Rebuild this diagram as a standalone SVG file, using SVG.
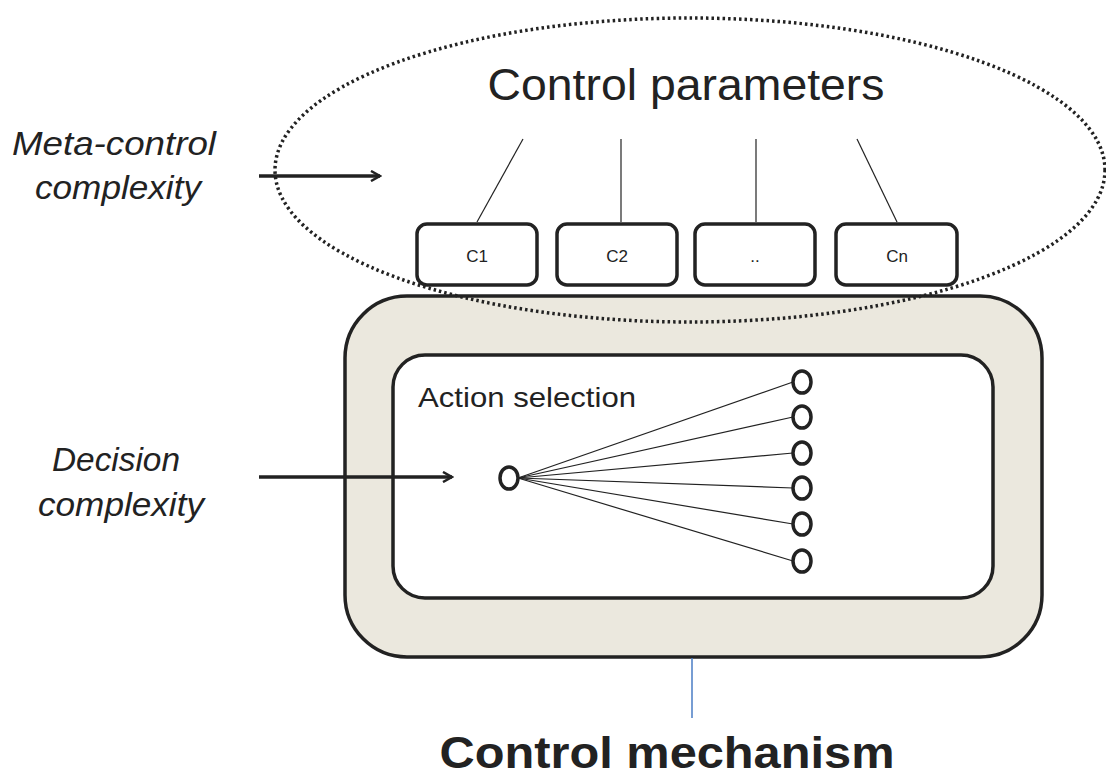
<svg xmlns="http://www.w3.org/2000/svg" width="1106" height="776" viewBox="0 0 1106 776">
<defs>
<style>
.t{font-family:"Liberation Sans","DejaVu Sans",sans-serif;fill:#222}
.lbl{font-style:italic;font-size:33px}
.box{fill:#fff;stroke:#222;stroke-width:3.5}
.thin{stroke:#222;stroke-width:1.2;fill:none}
.node{fill:#fff;stroke:#222;stroke-width:3.5}
.arr{stroke:#222;stroke-width:3.5;fill:none}
</style>
<marker id="ah" viewBox="0 0 12 12" refX="10" refY="6" markerWidth="12" markerHeight="12" markerUnits="userSpaceOnUse" orient="auto">
<path d="M1,1 L10,6 L1,11" fill="none" stroke="#222" stroke-width="2.5"/>
</marker>
</defs>
<rect width="1106" height="776" fill="#fff"/>

<g id="control-mechanism">
<rect x="345" y="296" width="697" height="361" rx="62" fill="#ebe8de" stroke="#222" stroke-width="3.5"/>
<line x1="692" y1="658" x2="692" y2="718" stroke="#4a7cc4" stroke-width="1.5"/>
<text class="t" x="667" y="768" font-size="44" font-weight="bold" text-anchor="middle" textLength="455" lengthAdjust="spacingAndGlyphs">Control mechanism</text>
</g>

<g id="action-selection">
<rect x="393" y="355" width="600" height="243" rx="32" fill="#fff" stroke="#222" stroke-width="3.5"/>
<text class="t" x="418" y="407" font-size="28" textLength="218" lengthAdjust="spacingAndGlyphs">Action selection</text>
</g>

<g id="control-parameters">
<ellipse cx="690" cy="170" rx="415" ry="152" fill="none" stroke="#222" stroke-width="3.5" stroke-dasharray="2.5,3"/>
<text class="t" x="686" y="100" font-size="44" text-anchor="middle" textLength="397" lengthAdjust="spacingAndGlyphs">Control parameters</text>
</g>

<g id="c1"><rect class="box" x="417" y="224" width="120" height="61" rx="10"/><text class="t" x="477" y="262" font-size="17" text-anchor="middle">C1</text></g>
<g id="c2"><rect class="box" x="557" y="224" width="120" height="61" rx="10"/><text class="t" x="617" y="262" font-size="17" text-anchor="middle">C2</text></g>
<g id="c3"><rect class="box" x="695" y="224" width="120" height="61" rx="10"/><text class="t" x="755" y="262" font-size="17" text-anchor="middle">..</text></g>
<g id="cn"><rect class="box" x="836" y="224" width="121" height="61" rx="10"/><text class="t" x="897" y="262" font-size="17" text-anchor="middle">Cn</text></g>

<g id="labels">
<text class="t lbl" x="114" y="155" text-anchor="middle" textLength="204" lengthAdjust="spacingAndGlyphs">Meta-control</text>
<text class="t lbl" x="118" y="199" text-anchor="middle" textLength="166" lengthAdjust="spacingAndGlyphs">complexity</text>
<text class="t lbl" x="116" y="471" text-anchor="middle" textLength="128" lengthAdjust="spacingAndGlyphs">Decision</text>
<text class="t lbl" x="121" y="516" text-anchor="middle" textLength="166" lengthAdjust="spacingAndGlyphs">complexity</text>
</g>

<g id="connectors">
<line class="thin" x1="523" y1="139" x2="477" y2="222"/>
<line class="thin" x1="621" y1="139" x2="621" y2="222"/>
<line class="thin" x1="756" y1="139" x2="756" y2="222"/>
<line class="thin" x1="857" y1="139" x2="897" y2="222"/>
<line class="arr" x1="259" y1="176" x2="380" y2="176" marker-end="url(#ah)"/>
<line class="arr" x1="259" y1="477" x2="452" y2="477" marker-end="url(#ah)"/>
<line class="thin" x1="518" y1="478" x2="793" y2="382"/>
<line class="thin" x1="518" y1="478" x2="793" y2="417"/>
<line class="thin" x1="518" y1="478" x2="793" y2="453"/>
<line class="thin" x1="518" y1="478" x2="793" y2="488"/>
<line class="thin" x1="518" y1="478" x2="793" y2="524"/>
<line class="thin" x1="518" y1="478" x2="793" y2="561"/>
</g>

<g id="nodes">
<ellipse class="node" cx="509" cy="478" rx="9" ry="11"/>
<ellipse class="node" cx="802" cy="382" rx="9" ry="11"/>
<ellipse class="node" cx="802" cy="417" rx="9" ry="11"/>
<ellipse class="node" cx="802" cy="453" rx="9" ry="11"/>
<ellipse class="node" cx="802" cy="488" rx="9" ry="11"/>
<ellipse class="node" cx="802" cy="524" rx="9" ry="11"/>
<ellipse class="node" cx="802" cy="561" rx="9" ry="11"/>
</g>
</svg>
